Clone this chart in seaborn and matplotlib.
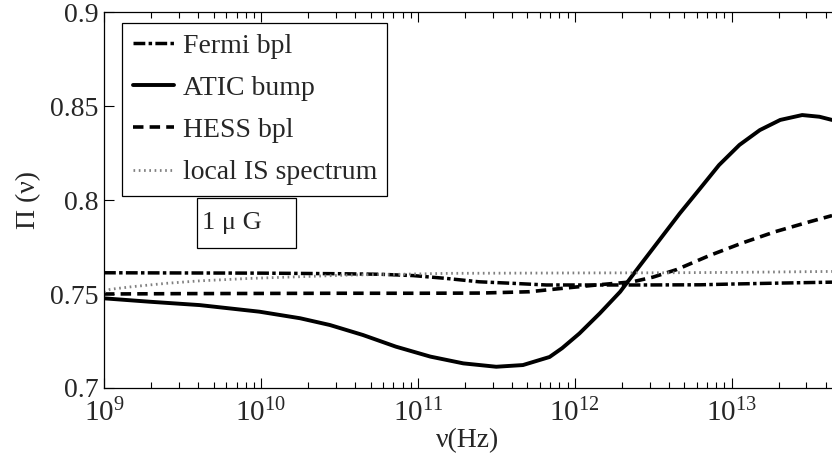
import numpy as np
import pandas as pd
import matplotlib
matplotlib.use("Agg")
import matplotlib.pyplot as plt
import seaborn as sns
from matplotlib.ticker import FuncFormatter, LogLocator
from matplotlib.patches import Rectangle

sns.set_theme(style="white")
plt.rcParams['font.family'] = ['Liberation Serif', 'DejaVu Serif']
plt.rcParams['mathtext.fontset'] = 'stix'

# values (log10 of frequency, polarisation degree)
atic_lognu = [9.0, 9.29, 9.61, 9.99, 10.25, 10.44, 10.65, 10.86, 11.08, 11.29,
              11.50, 11.67, 11.84, 11.92, 12.03, 12.16, 12.29, 12.41, 12.54, 12.67,
              12.80, 12.92, 13.05, 13.18, 13.31, 13.45, 13.56, 13.64]
atic_pi = [0.7477, 0.7459, 0.7441, 0.7406, 0.7371, 0.7335, 0.7282, 0.7220, 0.7167, 0.7131,
           0.7113, 0.7122, 0.7165, 0.7212, 0.7290, 0.7397, 0.7512, 0.7645, 0.7787, 0.7929,
           0.8062, 0.8186, 0.8293, 0.8372, 0.8426, 0.8452, 0.8443, 0.8426]

hess_lognu = [9.0, 9.5, 10.0, 10.5, 11.0, 11.4, 11.71, 11.92, 12.14, 12.37,
              12.50, 12.65, 12.86, 13.07, 13.28, 13.50, 13.64]
hess_pi = [0.7500, 0.7502, 0.7503, 0.7504, 0.7504, 0.7505, 0.7512, 0.753, 0.7548, 0.7565,
           0.7590, 0.7630, 0.7705, 0.7772, 0.7832, 0.7885, 0.7917]

fermi_lognu = [9.0, 9.5, 10.0, 10.5, 10.76, 10.97, 11.18, 11.39, 11.6, 11.82,
               12.0, 12.4, 12.8, 13.0, 13.3, 13.64]
fermi_pi = [0.7613, 0.7612, 0.7611, 0.7608, 0.7605, 0.7598, 0.7583, 0.7565, 0.7557, 0.7548,
            0.7548, 0.7548, 0.7549, 0.7553, 0.7558, 0.7563]

local_lognu = [9.0, 9.04, 9.18, 9.40, 9.61, 9.93, 10.25, 10.57, 10.885, 11.2,
               12.0, 12.6, 13.0, 13.64]
local_pi = [0.751, 0.7525, 0.7539, 0.7557, 0.757, 0.7583, 0.7592, 0.7601, 0.7605, 0.761,
            0.7612, 0.7613, 0.7615, 0.762]

y_ticks = [0.7, 0.75, 0.8, 0.85, 0.9]
field_label = "1 \u03bc G"

fig = plt.figure(figsize=(8.32, 4.63), dpi=100)
ax = fig.add_axes([0.125, 0.162, 0.875, 0.812])

series = [
    ("Fermi bpl", fermi_lognu, fermi_pi, dict(color="black", lw=2.5, ls=(0, (3.4, 0.95, 1.0, 0.95)))),
    ("ATIC bump", atic_lognu, atic_pi, dict(color="black", lw=2.8, ls="-")),
    ("HESS bpl", hess_lognu, hess_pi, dict(color="black", lw=2.6, ls=(0, (2.9, 1.7)))),
    ("local IS spectrum", local_lognu, local_pi, dict(color="0.5", lw=2.0, ls=(0, (0.6, 1.3)))),
]

for name, lognu, pi, style in series:
    df = pd.DataFrame({"nu": 10.0 ** np.array(lognu), "pi": pi})
    sns.lineplot(data=df, x="nu", y="pi", ax=ax, label=name,
                 color=style["color"], linewidth=style["lw"], linestyle=style["ls"])

ax.set_xscale("log")
ax.set_xlim(1e9, 10 ** 13.64)
ax.set_ylim(0.7, 0.9)
ax.set_yticks(y_ticks)
ax.yaxis.set_major_formatter(FuncFormatter(lambda v, p: "%g" % v))
ax.xaxis.set_major_locator(LogLocator(base=10, numticks=10))
ax.xaxis.set_minor_locator(LogLocator(base=10, subs=np.arange(2, 10), numticks=50))

ax.tick_params(axis="both", which="both", direction="in", labelsize=20, color="black")
ax.tick_params(axis="x", which="both", top=True, bottom=True)
ax.tick_params(axis="x", which="major", length=7, width=0.8, pad=8, labelsize=21)
ax.tick_params(axis="x", which="minor", length=4, width=0.8)
ax.tick_params(axis="y", which="major", left=True, length=7, width=0.8, pad=4)

for side in ["left", "bottom", "top"]:
    ax.spines[side].set_color("black")
    ax.spines[side].set_linewidth(0.9)
ax.spines["right"].set_visible(False)

ax.set_xlabel("\u03bd(Hz)", fontsize=20, labelpad=0)
ax.set_ylabel("\u03a0 (\u03bd)", fontsize=20, labelpad=6)

leg = ax.legend(loc="upper left", bbox_to_anchor=(0.0247, 0.971), borderaxespad=0,
                fontsize=20, frameon=True, fancybox=False, edgecolor="black",
                handlelength=1.5, handletextpad=0.3, labelspacing=0.6,
                borderpad=0.38, framealpha=1)
leg.get_frame().set_linewidth(0.9)

# field-strength box, MATLAB-style text box with the text to the left
ax.add_patch(Rectangle((0.1277, 0.372), 0.136, 0.133, transform=ax.transAxes,
                       facecolor="white", edgecolor="black", linewidth=0.9, zorder=5))
ax.text(0.1346, 0.439, field_label, transform=ax.transAxes, fontsize=19,
        ha="left", va="center", zorder=6)

fig.savefig("out.png", dpi=100)
